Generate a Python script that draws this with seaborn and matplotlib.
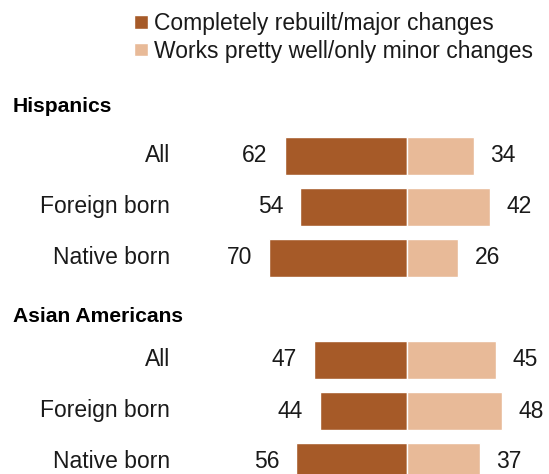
import matplotlib
matplotlib.use("Agg")
import matplotlib.pyplot as plt
import seaborn as sns
import pandas as pd

groups = ["Hispanics", "Asian Americans"]
subgroups = ["All", "Foreign born", "Native born"]
major = {"Hispanics": [62, 54, 70], "Asian Americans": [47, 44, 56]}
minor = {"Hispanics": [34, 42, 26], "Asian Americans": [45, 48, 37]}
series_names = ["Completely rebuilt/major changes", "Works pretty well/only minor changes"]
colors = ["#A65A28", "#E8BA98"]

sns.set_theme(style="white")
plt.rcParams["font.family"] = ["Liberation Sans", "DejaVu Sans"]

# build rows: header row then three subgroup rows per group
order = []
rows = []
labels = {}
for g in groups:
    order.append(g + "_hdr")
    for i, s in enumerate(subgroups):
        key = g + "_" + s
        order.append(key)
        labels[key] = s
        rows.append({"row": key, "value": -major[g][i], "series": series_names[0], "lab": major[g][i]})
        rows.append({"row": key, "value": minor[g][i], "series": series_names[1], "lab": minor[g][i]})
df = pd.DataFrame(rows)

W, H = 549, 474
fig = plt.figure(figsize=(W / 100, H / 100), dpi=100)
ax = fig.add_axes([0, 0, 1, 1])

sns.barplot(data=df, x="value", y="row", hue="series", order=order,
            hue_order=series_names, palette=colors, dodge=False,
            width=0.75, orient="h", ax=ax, legend=True, saturation=1)

px_per_unit = 1.975
center_px = 407
ax.set_xlim(-center_px / px_per_unit, (W - center_px) / px_per_unit)
row0_px, row_step = 105, 51
ax.set_ylim((H - row0_px) / row_step, (0 - row0_px) / row_step)
ax.axis("off")

fs = 16.5
pos = {k: i for i, k in enumerate(order)}
for _, r in df.iterrows():
    y = pos[r["row"]]
    if r["value"] < 0:
        ax.text(r["value"] - 8.6, y, str(r["lab"]), ha="right", va="center", fontsize=fs, color="#1a1a1a")
    else:
        ax.text(r["value"] + 8.3, y, str(r["lab"]), ha="left", va="center", fontsize=fs, color="#1a1a1a")

lab_x = 170 / W
for key, s in labels.items():
    ax.text(lab_x, pos[key], s, ha="right", va="center", fontsize=fs, color="#1a1a1a",
            transform=ax.get_yaxis_transform())

hdr_offsets = {"Hispanics": 0.03, "Asian Americans": 0.15}
for g in groups:
    ax.text(13 / W, pos[g + "_hdr"] + hdr_offsets[g], g, ha="left", va="center", fontsize=15.2,
            fontweight="bold", color="#000000", transform=ax.get_yaxis_transform())

handles, leg_labels = ax.get_legend_handles_labels()
ax.legend(handles, leg_labels, loc="upper left", bbox_to_anchor=(134 / W, 1 - 12 / H),
          bbox_transform=fig.transFigure, frameon=False, fontsize=fs,
          handlelength=0.6, handleheight=0.55, handletextpad=0.28,
          labelspacing=0.2, borderpad=0, borderaxespad=0, labelcolor="#1a1a1a")

fig.savefig("out.png", dpi=100)
